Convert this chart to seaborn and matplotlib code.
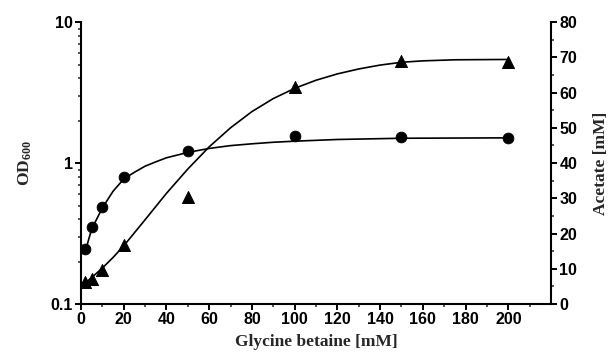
import numpy as np
import pandas as pd
import matplotlib
matplotlib.use("Agg")
import matplotlib.pyplot as plt
import matplotlib.ticker as mticker
import seaborn as sns

glycine_betaine = [2, 5, 10, 20, 50, 100, 150, 200]
od600 = [0.244, 0.35, 0.49, 0.80, 1.22, 1.55, 1.52, 1.51]
acetate = [6.4, 7.1, 9.6, 16.9, 30.3, 61.6, 68.9, 68.6]

# Fitted curves
od_curve_x = [2, 5, 10, 15, 20, 25, 30, 35, 40, 50, 60, 70, 80, 90, 100, 120, 150, 200]
od_curve = [0.235, 0.34, 0.48, 0.63, 0.77, 0.86, 0.95, 1.02, 1.09, 1.19, 1.27, 1.33,
            1.37, 1.405, 1.43, 1.47, 1.50, 1.51]

ac_curve_x = [1, 5, 10, 15, 20, 30, 40, 50, 60, 70, 80, 90, 100, 110, 120, 130, 140,
              150, 160, 175, 200]
ac_curve = [5.4, 7.5, 10.2, 13.2, 16.5, 23.9, 31.4, 38.3, 44.6, 50.0, 54.6, 58.3, 61.2,
            63.5, 65.3, 66.7, 67.8, 68.6, 69.0, 69.3, 69.4]

sns.set_style("ticks")
plt.rcParams["font.family"] = ["Liberation Sans", "DejaVu Sans"]
plt.rcParams["mathtext.default"] = "regular"

df = pd.DataFrame({"gb": glycine_betaine, "od": od600, "ac": acetate})
od_fit = pd.DataFrame({"x": od_curve_x, "y": od_curve})
ac_fit = pd.DataFrame({"x": ac_curve_x, "y": ac_curve})

fig = plt.figure(figsize=(6.13, 3.62), dpi=100)
ax = fig.add_axes([0.132, 0.160, 0.767, 0.779])
ax2 = ax.twinx()

# OD600 on log axis
sns.lineplot(data=od_fit, x="x", y="y", ax=ax, color="black", lw=1.2)
sns.scatterplot(data=df, x="gb", y="od", ax=ax, color="black", marker="o",
                s=60, edgecolor="black", zorder=5)
ax.set_yscale("log")
ax.set_ylim(0.1, 10)
ax.set_xlim(0, 220)

# Acetate on linear axis
sns.lineplot(data=ac_fit, x="x", y="y", ax=ax2, color="black", lw=1.2)
sns.scatterplot(data=df, x="gb", y="ac", ax=ax2, color="black", marker="^",
                s=75, edgecolor="black", zorder=5)
ax2.set_ylim(0, 80)

# ticks
ax.xaxis.set_major_locator(mticker.FixedLocator(np.arange(0, 201, 20)))
ax.xaxis.set_minor_locator(mticker.FixedLocator(np.arange(10, 211, 20)))
ax.yaxis.set_major_locator(mticker.FixedLocator([0.1, 1, 10]))
ax.yaxis.set_major_formatter(mticker.FixedFormatter(["0.1", "1", "10"]))
ax.yaxis.set_minor_locator(mticker.LogLocator(base=10, subs=np.arange(2, 10)))
ax.yaxis.set_minor_formatter(mticker.NullFormatter())
ax2.yaxis.set_major_locator(mticker.MultipleLocator(10))
ax2.yaxis.set_minor_locator(mticker.MultipleLocator(5))

for a in (ax, ax2):
    a.tick_params(which="major", length=4, width=1.4, direction="out",
                  labelsize=11.5, pad=2, colors="black")
    a.tick_params(which="minor", length=2.5, width=1.1, direction="out")
    for lab in a.get_xticklabels() + a.get_yticklabels():
        lab.set_fontweight("bold")
    for s in a.spines.values():
        s.set_linewidth(1.5)
        s.set_color("black")
    a.spines["top"].set_visible(False)

ax.spines["right"].set_visible(False)
ax2.spines["left"].set_visible(False)
ax2.spines["bottom"].set_visible(False)

serif = dict(family=["Liberation Serif", "DejaVu Serif"], fontweight="bold", fontsize=12.5)
ax.set_xlabel("Glycine betaine [mM]", labelpad=5, **serif)
ax.set_ylabel("OD$_{600}$", labelpad=12, **serif)
ax2.set_ylabel("Acetate [mM]", labelpad=11, rotation=90, **serif)

fig.savefig("out.png", dpi=100)
